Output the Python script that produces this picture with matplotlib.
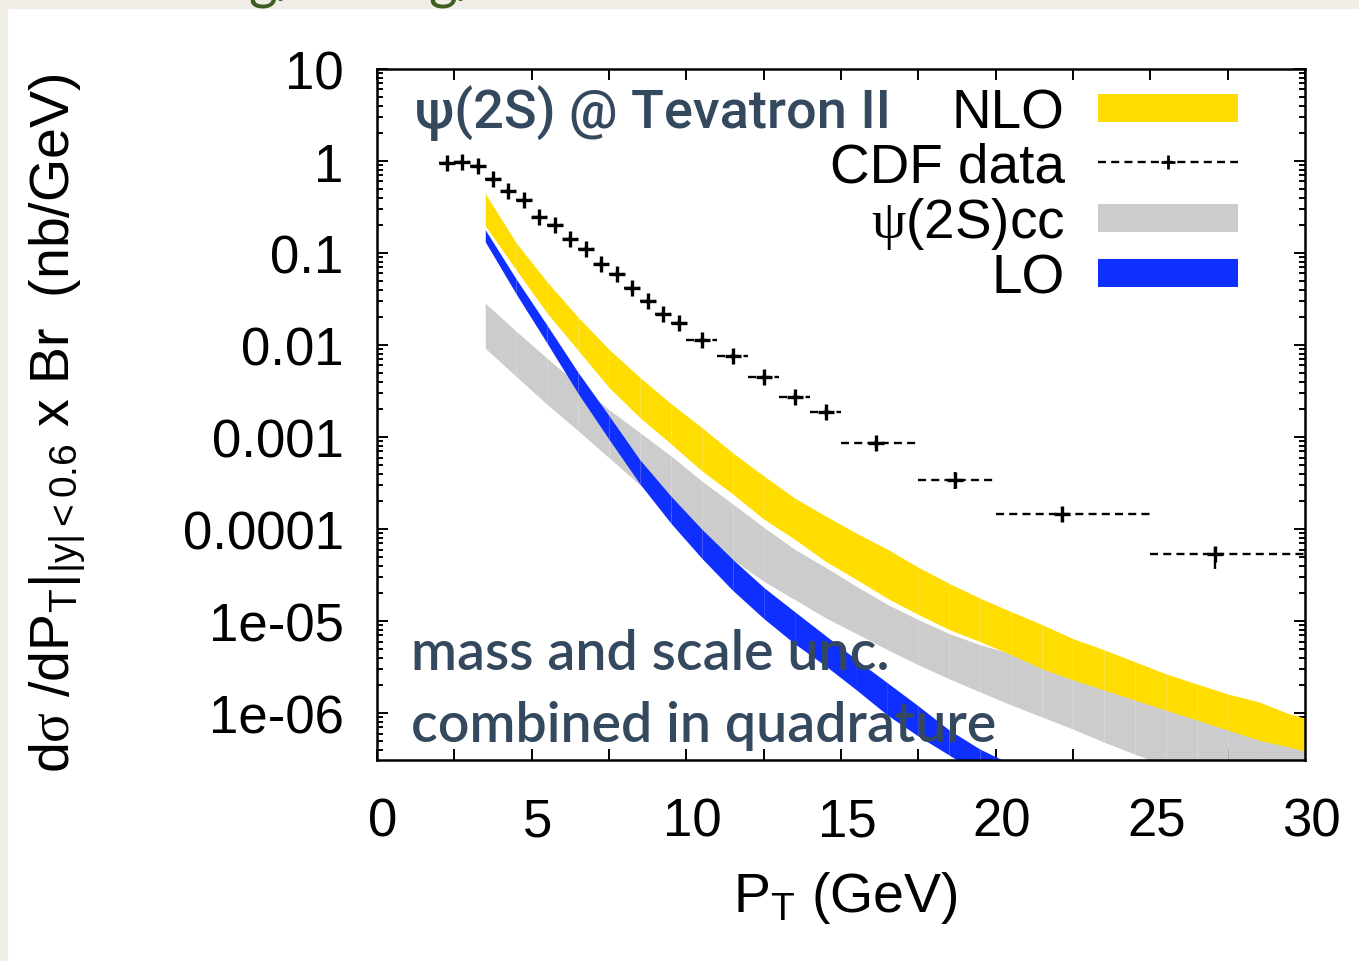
import numpy as np
import matplotlib
matplotlib.use('Agg')
import matplotlib.pyplot as plt
from matplotlib.patches import Rectangle
from matplotlib.lines import Line2D
from matplotlib.transforms import ScaledTranslation
from matplotlib.ticker import MultipleLocator, LogLocator, NullFormatter, FixedLocator, FixedFormatter

plt.rcParams['font.family'] = ['Liberation Sans', 'DejaVu Sans']
plt.rcParams['mathtext.fontset'] = 'custom'
plt.rcParams['mathtext.rm'] = 'Liberation Serif'
plt.rcParams['mathtext.sf'] = 'Liberation Sans'
plt.rcParams['mathtext.it'] = 'Liberation Sans:italic'

# band grid in pT (GeV)
band_pt = [3.5, 4.5, 5.5, 6.5, 7.5, 8.5, 9.5, 10.5, 11.5, 12.5, 13.5, 14.5, 15.5, 16.5,
           17.5, 18.5, 19.5, 20.5, 21.5, 22.5, 23.5, 24.5, 25.5, 26.5, 27.5, 28.5, 29.5, 30.0]

# NLO band (yellow)
nlo_hi = [0.443, 0.129, 0.0485, 0.0201, 0.0090, 0.00445, 0.00232, 0.00127, 6.75e-4, 3.79e-4,
          2.18e-4, 1.39e-4, 9.04e-5, 6.05e-5, 3.85e-5, 2.57e-5, 1.77e-5, 1.27e-5, 9.18e-6,
          6.46e-6, 4.90e-6, 3.62e-6, 2.68e-6, 2.08e-6, 1.62e-6, 1.33e-6, 9.8e-7, 8.86e-7]
nlo_lo = [0.198, 0.0656, 0.0222, 0.00877, 0.00346, 0.00163, 8.47e-4, 4.30e-4, 2.41e-4, 1.29e-4,
          7.78e-5, 4.47e-5, 2.84e-5, 1.77e-5, 1.18e-5, 8.10e-6, 5.99e-6, 4.32e-6, 3.04e-6,
          2.30e-6, 1.79e-6, 1.39e-6, 1.08e-6, 8.43e-7, 6.56e-7, 5.10e-7, 4.28e-7, 3.87e-7]

# psi(2S) colour-singlet band (gray)
cc_hi = [0.0286, 0.01415, 0.00718, 0.00373, 0.00199, 0.00112, 6.26e-4, 3.34e-4, 1.88e-4, 1.05e-4,
         6.05e-5, 3.85e-5, 2.39e-5, 1.52e-5, 1.04e-5, 7.32e-6, 5.55e-6, 4.43e-6, 3.36e-6,
         2.55e-6, 1.98e-6, 1.54e-6, 1.23e-6, 9.8e-7, 8.0e-7, 6.56e-7, 5.36e-7, 4.85e-7]
cc_lo = [0.00923, 0.00456, 0.00226, 0.001175, 5.96e-4, 3.02e-4, 1.57e-4, 8.39e-5, 4.70e-5, 2.71e-5,
         1.72e-5, 1.09e-5, 7.32e-6, 4.90e-6, 3.36e-6, 2.36e-6, 1.70e-6, 1.23e-6, 9.09e-7,
         6.72e-7, 4.85e-7, 3.58e-7, 2.72e-7, 2.06e-7, 1.56e-7, 1.19e-7, 9.2e-8, 8.1e-8]

# LO band (blue)
lo_pt = [3.5, 4.5, 5.5, 6.5, 7.5, 8.5, 9.5, 10.5, 11.5, 12.5, 13.5, 14.5, 15.5, 16.5,
         17.5, 18.5, 19.5, 20.5, 21.5]
lo_hi = [0.179, 0.0522, 0.0164, 5.05e-3, 1.71e-3, 5.66e-4, 2.29e-4, 1.0e-4, 4.70e-5, 2.33e-5,
         1.27e-5, 6.97e-6, 3.81e-6, 2.14e-6, 1.20e-6, 6.56e-7, 4.06e-7, 2.79e-7, 1.9e-7]
lo_lo = [0.1325, 0.0359, 0.01047, 2.98e-3, 9.46e-4, 3.10e-4, 1.16e-4, 4.82e-5, 2.16e-5, 1.07e-5,
         5.69e-6, 3.27e-6, 1.79e-6, 9.55e-7, 5.63e-7, 3.50e-7, 2.17e-7, 1.4e-7, 9.5e-8]

# CDF Run II data
cdf_pt = [2.25, 2.75, 3.25, 3.75, 4.25, 4.75, 5.25, 5.75, 6.25, 6.75, 7.25, 7.75, 8.25,
          8.75, 9.25, 9.75, 10.5, 11.5, 12.5, 13.5, 14.5, 16.13, 18.69, 22.15, 27.1]
cdf_bin_lo = [2.0, 2.5, 3.0, 3.5, 4.0, 4.5, 5.0, 5.5, 6.0, 6.5, 7.0, 7.5, 8.0,
              8.5, 9.0, 9.5, 10.0, 11.0, 12.0, 13.0, 14.0, 15.0, 17.5, 20.0, 25.0]
cdf_bin_hi = [2.5, 3.0, 3.5, 4.0, 4.5, 5.0, 5.5, 6.0, 6.5, 7.0, 7.5, 8.0, 8.5,
              9.0, 9.5, 10.0, 11.0, 12.0, 13.0, 14.0, 15.0, 17.5, 20.0, 25.0, 30.0]
cdf_val = [0.958, 0.965, 0.873, 0.630, 0.478, 0.381, 0.248, 0.203, 0.143, 0.111, 0.0762, 0.0593,
           0.0417, 0.0301, 0.0217, 0.0173, 0.01128, 0.00754, 0.00445, 0.00276, 0.00189,
           8.69e-4, 3.43e-4, 1.46e-4, 5.33e-5]
cdf_err = [0.06, 0.06, 0.055, 0.04, 0.03, 0.024, 0.016, 0.013, 0.009, 0.007, 0.005, 0.004,
           0.003, 0.0022, 0.0016, 0.0013, 0.0009, 0.0006, 0.0004, 0.00026, 0.00018,
           1.0e-4, 0.7e-4, 0.27e-4, 1.6e-5]

ytick_vals = [10, 1, 0.1, 0.01, 0.001, 0.0001, 1e-5, 1e-6]
ytick_labels = ['10', '1', '0.1', '0.01', '0.001', '0.0001', '1e-05', '1e-06']
xtick_vals = [0, 5, 10, 15, 20, 25, 30]

legend_labels = ['NLO', 'CDF data', r'$\mathrm{ψ}$(2S)cc', 'LO']

col_nlo = '#ffdd00'
col_cc = '#cccccc'
col_lo = '#0f2fff'
col_note = '#34495e'


def fill_band(ax, x, lo, hi, color, z):
    # draw segment by segment, like the original polygons
    for i in range(len(x) - 1):
        ax.fill_between(x[i:i + 2], lo[i:i + 2], hi[i:i + 2], color=color, lw=0, zorder=z)


fig = plt.figure(figsize=(13.59, 9.62), dpi=100)
fig.patch.set_facecolor('white')
fig.patches.append(Rectangle((0, 0), 7 / 1359, 1, transform=fig.transFigure, color='#f1eee7', zorder=0))
fig.patches.append(Rectangle((0, 1 - 9 / 962), 1, 9 / 962, transform=fig.transFigure, color='#f1eee7', zorder=0))
# bottom of a slide heading that is cut off in the original picture
for gx in [248, 428]:
    fig.text(gx / 1359, 1 + 3 / 962, 'g/', color='#3c5e1f', fontsize=40, va='baseline', family='Lato')

ax = fig.add_axes([377 / 1359, 1 - 761 / 962, 928 / 1359, 691 / 962])
ax.set_yscale('log')
ax.set_xlim(0, 30)
ax.set_ylim(3.1e-7, 10)

fill_band(ax, np.array(band_pt), np.array(cc_lo), np.array(cc_hi), col_cc, 2)
fill_band(ax, np.array(band_pt), np.array(nlo_lo), np.array(nlo_hi), col_nlo, 2.1)
fill_band(ax, np.array(lo_pt), np.array(lo_lo), np.array(lo_hi), col_lo, 2.2)

pt = np.array(cdf_pt)
xerr = [pt - np.array(cdf_bin_lo), np.array(cdf_bin_hi) - pt]
eb = ax.errorbar(cdf_pt, cdf_val, xerr=xerr, yerr=cdf_err, fmt='none', ecolor='black',
                 elinewidth=1.7, capsize=0, zorder=4)
for lc in eb[2]:
    lc.set_linestyle((0, (3.4, 2.2)))
ax.plot(cdf_pt, cdf_val, '+', color='black', ms=11, mew=2.4, zorder=5)

# axes styling
for s in ax.spines.values():
    s.set_linewidth(1.8)
ax.xaxis.set_major_locator(FixedLocator(xtick_vals))
ax.xaxis.set_minor_locator(MultipleLocator(2.5))
ax.yaxis.set_major_locator(FixedLocator(ytick_vals))
ax.yaxis.set_major_formatter(FixedFormatter(ytick_labels))
ax.yaxis.set_minor_locator(LogLocator(base=10, subs=range(2, 10), numticks=20))
ax.yaxis.set_minor_formatter(NullFormatter())
ax.tick_params(which='both', direction='in', top=True, right=True, width=1.4, labelsize=38)
ax.tick_params(which='major', length=8)
ax.tick_params(axis='x', which='minor', length=8)
ax.tick_params(axis='y', which='minor', length=4)
ax.tick_params(axis='x', pad=26)
ax.tick_params(axis='y', pad=24)
shift = ScaledTranslation(6 / 100, 0, fig.dpi_scale_trans)
for lab in ax.get_xticklabels():
    lab.set_transform(lab.get_transform() + shift)

# notes
ax.text(0.041, 0.916, 'ψ(2S) @ Tevatron II', transform=ax.transAxes, color=col_note,
        fontsize=39, fontweight='medium', family=['Roboto', 'DejaVu Sans'], va='baseline', zorder=6)
ax.text(0.037, 0.1317, 'mass and scale unc.', transform=ax.transAxes, color=col_note,
        fontsize=40, fontweight='semibold', family=['Lato', 'DejaVu Sans'], va='baseline', zorder=6)
ax.text(0.037, 0.0275, 'combined in quadrature', transform=ax.transAxes, color=col_note,
        fontsize=40, fontweight='semibold', family=['Lato', 'DejaVu Sans'], va='baseline', zorder=6)

# legend, drawn by hand so that the labels are right-aligned as in the original
text_x = 0.741
sw_x0, sw_x1 = 0.777, 0.928
row_text_y = [0.916, 0.8365, 0.757, 0.677]
row_mid_y = [0.9436, 0.8654, 0.7844, 0.7048]
for lab, ty in zip(legend_labels, row_text_y):
    ax.text(text_x, ty, lab, transform=ax.transAxes, fontsize=39.5, ha='right', va='baseline', zorder=6)
for col, my in zip([col_nlo, col_cc, col_lo], [row_mid_y[0], row_mid_y[2], row_mid_y[3]]):
    ax.add_patch(Rectangle((sw_x0, my - 0.0203), sw_x1 - sw_x0, 0.0405, transform=ax.transAxes,
                           color=col, lw=0, zorder=6))
ax.add_line(Line2D([sw_x0, sw_x1], [row_mid_y[1]] * 2, transform=ax.transAxes, color='black',
                   lw=1.7, ls=(0, (3.4, 2.2)), zorder=6))
ax.add_line(Line2D([(sw_x0 + sw_x1) / 2], [row_mid_y[1]], transform=ax.transAxes, color='black',
                   marker='+', ms=10, mew=2.0, zorder=6))

# axis titles
fig.text(58 / 1359, 0.560, r'd$\mathrm{σ}$ /dP$_\mathsf{T}$|$_\mathsf{|y|<0.6}$ x Br  (nb/GeV)',
         rotation=90, fontsize=40, ha='center', va='center')
fig.text(733 / 1359, 1 - 912 / 962, r'P$_\mathsf{T}$ (GeV)', fontsize=40, ha='left', va='baseline')

fig.savefig('out.png', dpi=100)
